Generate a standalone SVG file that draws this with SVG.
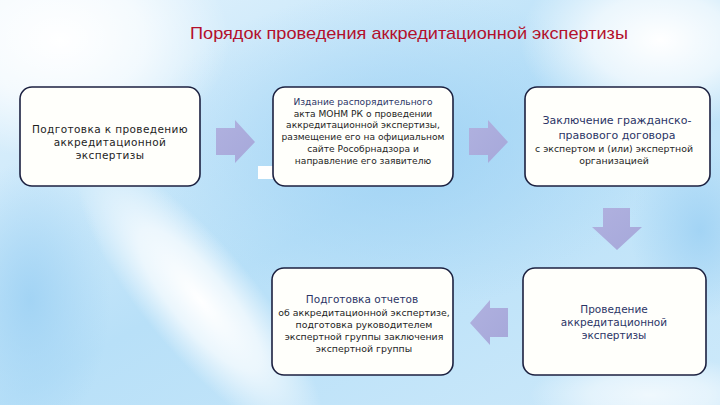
<svg xmlns="http://www.w3.org/2000/svg" width="720" height="405" viewBox="0 0 720 405">
<defs>
<linearGradient id="bg" x1="0" y1="0" x2="1" y2="1">
<stop offset="0" stop-color="#e6f4fd"/>
<stop offset="0.5" stop-color="#b8e0f8"/>
<stop offset="1" stop-color="#cde9fa"/>
</linearGradient>
<radialGradient id="blue" cx="0.5" cy="0.5" r="0.5">
<stop offset="0" stop-color="#9fd2f4" stop-opacity="0.9"/>
<stop offset="1" stop-color="#9fd2f4" stop-opacity="0"/>
</radialGradient>
<radialGradient id="white" cx="0.5" cy="0.5" r="0.5">
<stop offset="0" stop-color="#ffffff" stop-opacity="1"/>
<stop offset="0.5" stop-color="#ffffff" stop-opacity="0.7"/>
<stop offset="1" stop-color="#ffffff" stop-opacity="0"/>
</radialGradient>
<linearGradient id="arr" x1="0" y1="0" x2="1" y2="1">
<stop offset="0" stop-color="#b0b1df"/>
<stop offset="1" stop-color="#a6a8da"/>
</linearGradient>
<style>
.box{fill:#fffffb;stroke:#1c2140;stroke-width:1.6}
.arrow{fill:url(#arr)}
.t{font-family:"DejaVu Sans","Noto Sans",sans-serif;fill:#1e1e1e;text-anchor:middle}
.h{fill:#2b3566}
</style>
</defs>
<rect width="720" height="405" fill="url(#bg)"/>
<ellipse cx="400" cy="150" rx="260" ry="160" fill="url(#blue)"/>
<ellipse cx="30" cy="300" rx="80" ry="140" fill="url(#blue)"/>
<ellipse cx="700" cy="230" rx="70" ry="90" fill="url(#blue)"/>
<ellipse cx="60" cy="40" rx="170" ry="120" fill="url(#white)"/>
<ellipse cx="660" cy="40" rx="140" ry="90" fill="url(#white)"/>
<ellipse cx="200" cy="300" rx="180" ry="55" fill="url(#white)" transform="rotate(50 200 300)"/>
<ellipse cx="650" cy="395" rx="120" ry="40" fill="url(#white)" opacity="0.7"/>
<rect x="258" y="166" width="18" height="13" fill="#ffffff"/>

<text x="409" y="39" font-family="'Liberation Sans',Arial,sans-serif" font-size="17" fill="#b3102c" text-anchor="middle" textLength="438" lengthAdjust="spacingAndGlyphs">Порядок проведения аккредитационной экспертизы</text>

<g id="connectors">
<path class="arrow" d="M216 128 H235 V120 L255 142 L235 163 V155 H216 Z"/>
<path class="arrow" d="M469 128 H488 V120 L508 142 L488 163 V155 H469 Z"/>
<path class="arrow" d="M603 208 H630 V227 H642 L617 250 L592 227 H603 Z"/>
<path class="arrow" d="M508 308 H490 V300 L470 323 L490 345 V337 H508 Z"/>
</g>

<g id="n1">
<rect class="box" x="20" y="87" width="180" height="99" rx="12"/>
<text class="t" font-size="10.5"><tspan x="110" y="133" letter-spacing="0.4">Подготовка к проведению</tspan><tspan x="110" y="146" letter-spacing="0.4">аккредитационной</tspan><tspan x="110" y="159" letter-spacing="0.4">экспертизы</tspan></text>
</g>

<g id="n2">
<rect class="box" x="273" y="87" width="180" height="99" rx="12"/>
<text class="t" font-size="9.1"><tspan x="363" y="105" class="h">Издание распорядительного</tspan><tspan x="363" y="117">акта МОНМ РК о проведении</tspan><tspan x="363" y="128">аккредитационной экспертизы,</tspan><tspan x="363" y="140">размещение его на официальном</tspan><tspan x="363" y="152">сайте Рособрнадзора и</tspan><tspan x="363" y="164">направление его заявителю</tspan></text>
</g>

<g id="n3">
<rect class="box" x="525" y="87" width="185" height="99" rx="12"/>
<text class="t" font-size="11"><tspan x="617" y="124" class="h">Заключение гражданско-</tspan><tspan x="617" y="139" class="h">правового договора</tspan></text>
<text class="t" font-size="9.4"><tspan x="614" y="152">с экспертом и (или) экспертной</tspan><tspan x="614" y="164">организацией</tspan></text>
</g>

<g id="n4">
<rect class="box" x="272" y="268" width="181" height="107" rx="12"/>
<text class="t" font-size="10.5"><tspan x="362" y="303" class="h">Подготовка отчетов</tspan></text>
<text class="t" font-size="9.4"><tspan x="364" y="316">об аккредитационной экспертизе,</tspan><tspan x="364" y="328">подготовка руководителем</tspan><tspan x="364" y="340">экспертной группы заключения</tspan><tspan x="364" y="352">экспертной группы</tspan></text>
</g>

<g id="n5">
<rect class="box" x="523" y="268" width="183" height="107" rx="12"/>
<text class="t h" font-size="10.5"><tspan x="614" y="313">Проведение</tspan><tspan x="614" y="326">аккредитационной</tspan><tspan x="614" y="339">экспертизы</tspan></text>
</g>
</svg>
